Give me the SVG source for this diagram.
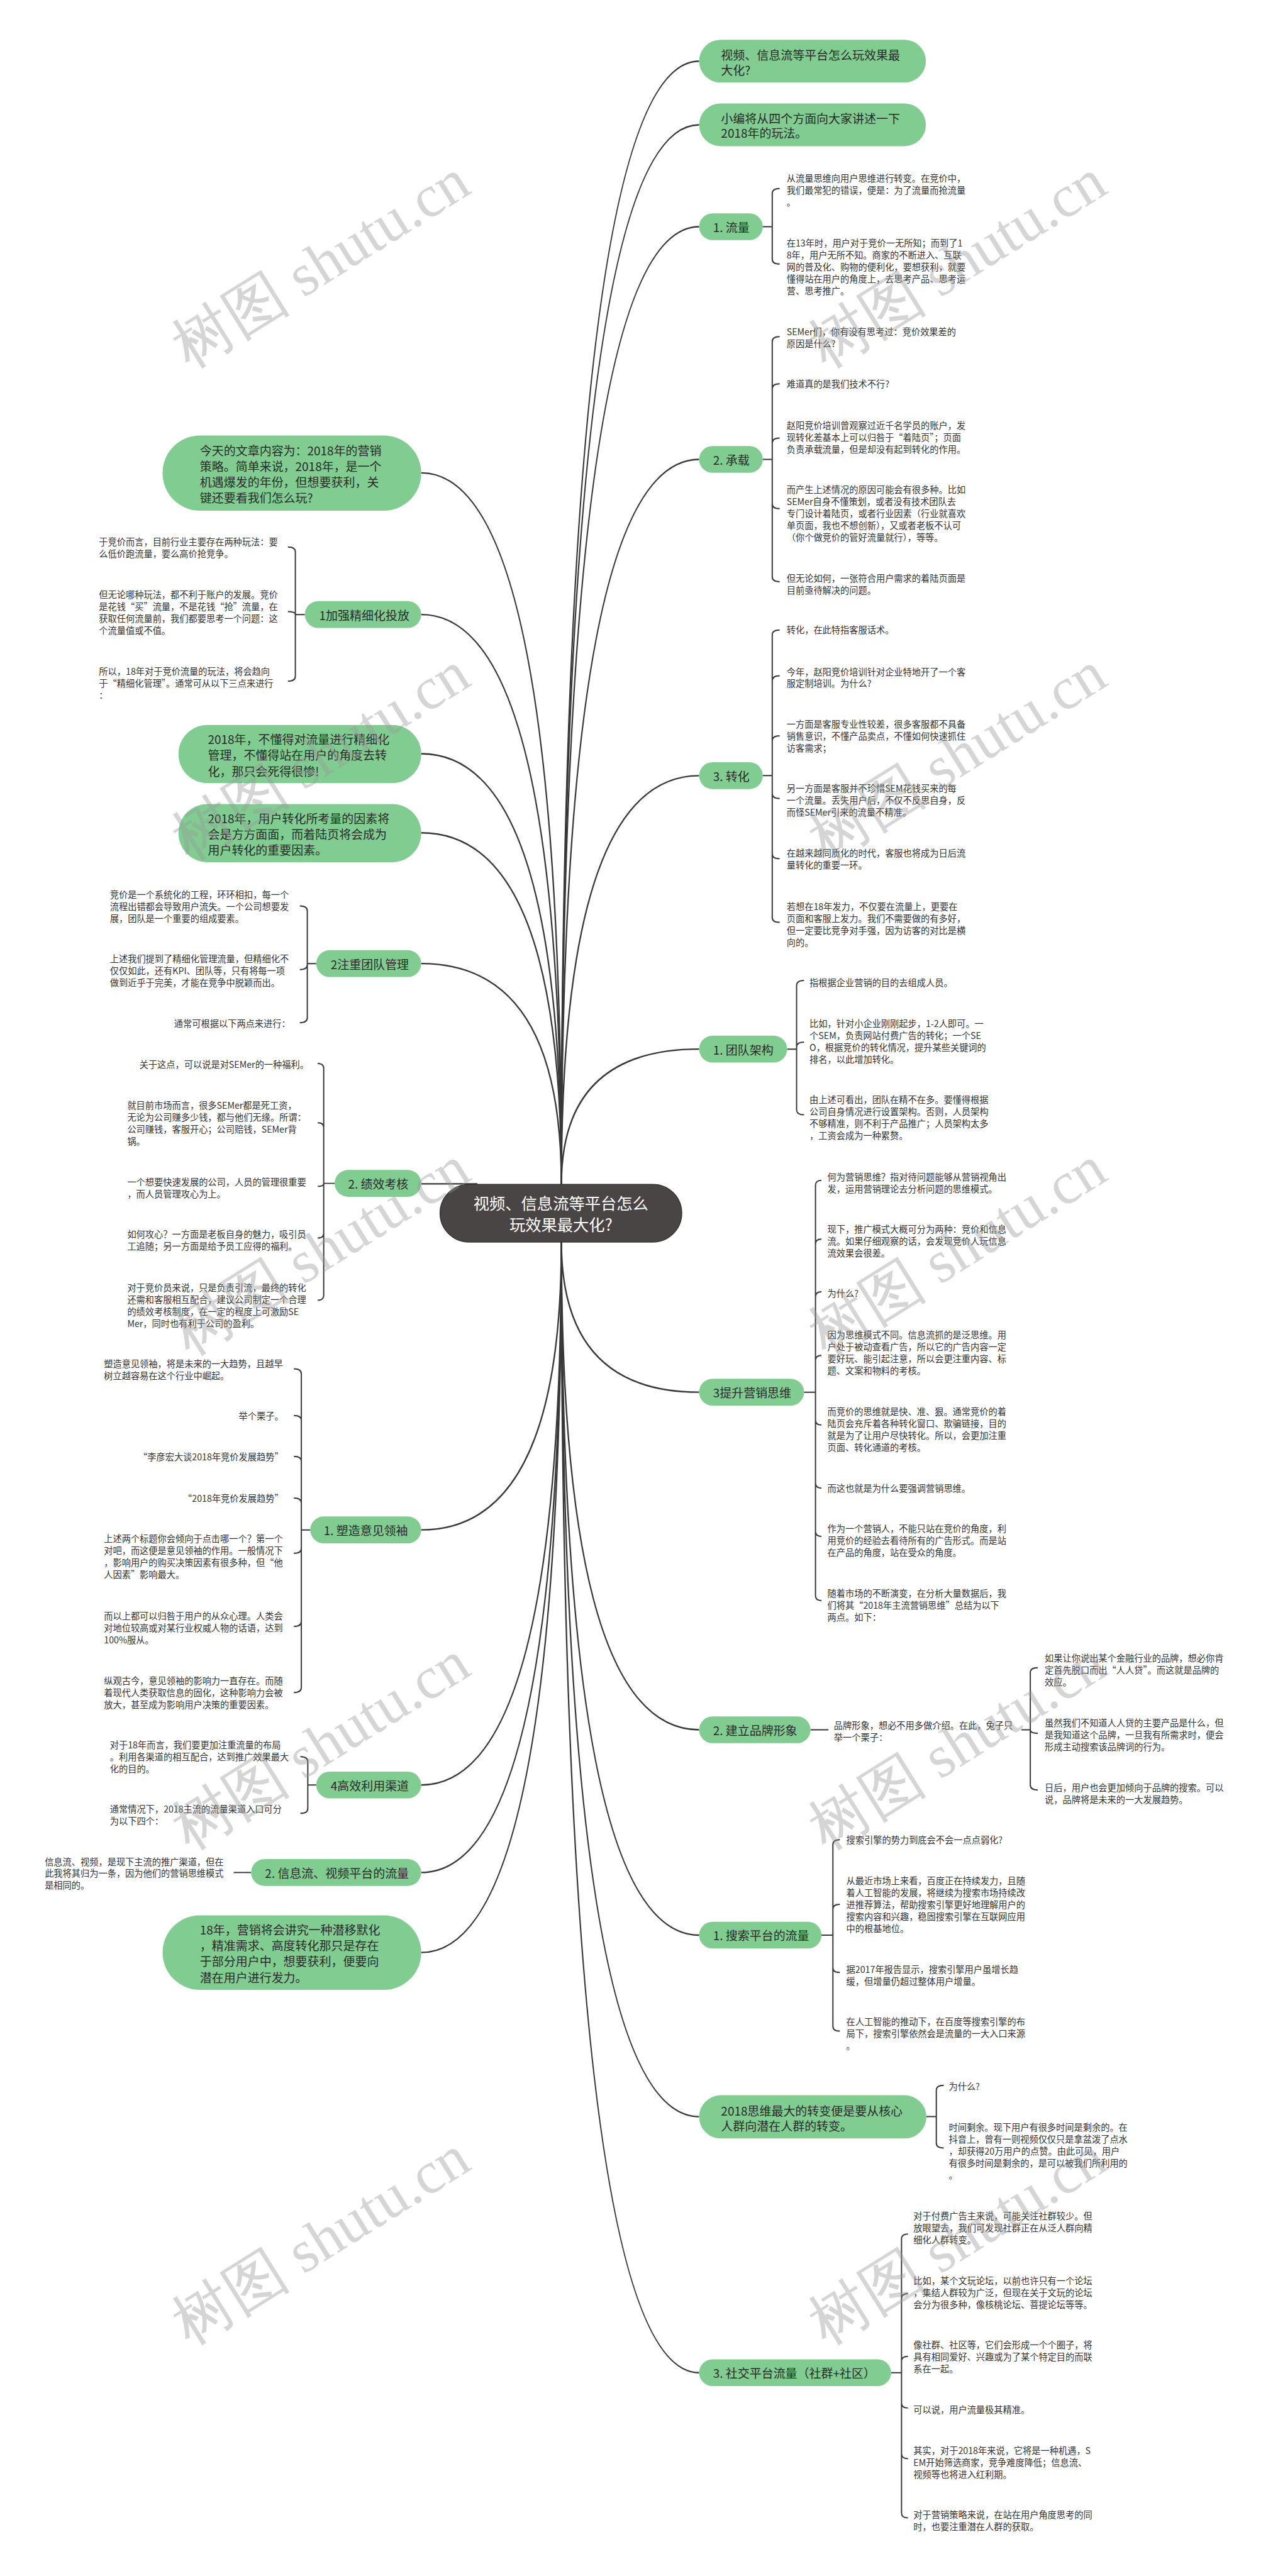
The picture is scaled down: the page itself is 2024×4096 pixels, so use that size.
<svg xmlns="http://www.w3.org/2000/svg" width="2024" height="4096" viewBox="0 0 2024 4096">
<style>
text{font-family:"Noto Sans CJK SC","Noto Sans",sans-serif;dominant-baseline:central}
.d{font-size:18px;fill:#333}
.n{font-size:24px;fill:#2b2b2b}
.c{font-size:32px;fill:#fff;text-anchor:middle}
.e{text-anchor:end}
.g{fill:#80cc91}
.k{fill:#4a4545;stroke:#3a3636;stroke-width:2}
.l{fill:none;stroke:#383838;stroke-width:3}
.b{fill:none;stroke:#383838;stroke-width:2.5}
.w{font-family:"Liberation Serif",serif;font-size:120px;fill:#999;opacity:.4;text-anchor:middle}
</style>
<rect width="2024" height="4096" fill="#fff"/>
<g transform="scale(0.7906)">
<g id="connectors">
<path class="l" d="M1129,2382Q1129,123 1406,123"/>
<path class="l" d="M1129,2382Q1129,251 1406,251"/>
<path class="l" d="M1129,2382Q1129,456 1406,456"/>
<path class="l" d="M1129,2382Q1129,924 1406,924"/>
<path class="l" d="M1129,2382Q1129,1560 1406,1560"/>
<path class="l" d="M1129,2382Q1129,2110 1406,2110"/>
<path class="l" d="M1129,2382Q1129,951 847,951"/>
<path class="l" d="M1129,2382Q1129,1236 847,1236"/>
<path class="l" d="M1129,2382Q1129,1516 847,1516"/>
<path class="l" d="M1129,2382Q1129,1675 847,1675"/>
<path class="l" d="M1129,2382Q1129,1938 847,1938"/>
<path class="l" d="M847,2381H960"/>
<path class="l" d="M1129,2498Q1129,2800 1406,2800"/>
<path class="l" d="M1129,2498Q1129,3479 1406,3479"/>
<path class="l" d="M1129,2498Q1129,3892 1406,3892"/>
<path class="l" d="M1129,2498Q1129,4257 1406,4257"/>
<path class="l" d="M1129,2498Q1129,4772 1406,4772"/>
<path class="l" d="M1129,2498Q1129,3077 847,3077"/>
<path class="l" d="M1129,2498Q1129,3590 847,3590"/>
<path class="l" d="M1129,2498Q1129,3766 847,3766"/>
<path class="l" d="M1129,2498Q1129,3927 847,3927"/>
<path class="b" d="M1534,456H1553M1553,456V389Q1553,379 1568,379M1553,456V521Q1553,531 1568,531"/>
<path class="b" d="M1534,924H1553M1553,924V687Q1553,677 1568,677M1553,924V782Q1553,772 1568,772M1553,924V891Q1553,881 1568,881M1553,924V1013Q1553,1023 1568,1023M1553,924V1160Q1553,1170 1568,1170"/>
<path class="b" d="M1534,1560H1553M1553,1560V1277Q1553,1267 1568,1267M1553,1560V1369Q1553,1359 1568,1359M1553,1560V1490Q1553,1480 1568,1480M1553,1560V1596Q1553,1606 1568,1606M1553,1560V1717Q1553,1727 1568,1727M1553,1560V1845Q1553,1855 1568,1855"/>
<path class="b" d="M1583,2110H1602M1602,2110V1982Q1602,1972 1617,1972M1602,2110V2106Q1602,2096 1617,2096M1602,2110V2232Q1602,2242 1617,2242"/>
<path class="b" d="M1617,2800H1640M1640,2800V2384Q1640,2374 1652,2374M1640,2800V2502Q1640,2492 1652,2492M1640,2800V2608Q1640,2598 1652,2598M1640,2800V2736Q1640,2726 1652,2726M1640,2800V2856Q1640,2866 1652,2866M1640,2800V2983Q1640,2993 1652,2993M1640,2800V3080Q1640,3090 1652,3090M1640,2800V3209Q1640,3219 1652,3219"/>
<path class="b" d="M1630,3479H1666M2054,3479H2072M2072,3479V3364Q2072,3354 2087,3354M2072,3479Q2072,3486 2087,3486M2072,3479V3590Q2072,3600 2087,3600"/>
<path class="b" d="M1652,3892H1675M1675,3892V3710Q1675,3700 1689,3700M1675,3892V3840Q1675,3830 1689,3830M1675,3892V3957Q1675,3967 1689,3967M1675,3892V4075Q1675,4085 1689,4085"/>
<path class="b" d="M1863,4257H1883M1883,4257V4204Q1883,4194 1898,4194M1883,4257V4310Q1883,4320 1898,4320"/>
<path class="b" d="M1792,4772H1813M1813,4772V4503Q1813,4493 1826,4493M1813,4772V4623Q1813,4613 1826,4613M1813,4772V4749Q1813,4739 1826,4739M1813,4772V4833Q1813,4843 1826,4843M1813,4772V4935Q1813,4945 1826,4945M1813,4772V5054Q1813,5064 1826,5064"/>
<path class="b" d="M613,1236H594M594,1236V1110Q594,1100 579,1100M594,1236Q594,1230 579,1230M594,1236V1360Q594,1370 579,1370"/>
<path class="b" d="M636,1938H618M618,1938V1832Q618,1822 603,1822M618,1938V1940Q618,1950 603,1950M618,1938V2047Q618,2057 603,2057"/>
<path class="b" d="M673,2380H651M651,2380V2149Q651,2139 639,2139M651,2380V2268Q651,2258 639,2258M651,2380Q651,2386 639,2386M651,2380V2480Q651,2490 639,2490M651,2380V2605Q651,2615 639,2615"/>
<path class="b" d="M624,3077H606M606,3077V2763Q606,2753 591,2753M606,3077V2857Q606,2847 591,2847M606,3077V2939Q606,2929 591,2929M606,3077V3023Q606,3013 591,3013M606,3077V3114Q606,3124 591,3124M606,3077V3261Q606,3271 591,3271M606,3077V3394Q606,3404 591,3404"/>
<path class="b" d="M636,3590H619M619,3590V3543Q619,3533 604,3533M619,3590V3637Q619,3647 604,3647"/>
<path class="b" d="M505,3766H470"/>
</g>
<g id="center"><rect class="k" x="885" y="2382" width="486" height="116" rx="58"/><text class="c"><tspan x="1128" y="2419">视频、信息流等平台怎么</tspan><tspan x="1128" y="2462">玩效果最大化?</tspan></text></g>
<g id="nA"><rect class="g" x="1406" y="80" width="456" height="86" rx="43"/><text class="n"><tspan x="1450" y="109">视频、信息流等平台怎么玩效果最</tspan><tspan x="1450" y="139">大化?</tspan></text></g>
<g id="nB"><rect class="g" x="1406" y="208" width="456" height="86" rx="43"/><text class="n"><tspan x="1450" y="236">小编将从四个方面向大家讲述一下</tspan><tspan x="1450" y="266">2018年的玩法。</tspan></text></g>
<g id="n1"><rect class="g" x="1406" y="429" width="128" height="54" rx="27"/><text class="n" x="1434" y="456">1. 流量</text></g>
<g id="n1a"><text class="d"><tspan x="1582" y="357">从流量思维向用户思维进行转变。在竞价中，</tspan><tspan x="1582" y="381">我们最常犯的错误，便是：为了流量而抢流量</tspan><tspan x="1582" y="405">。</tspan></text></g>
<g id="n1b"><text class="d"><tspan x="1582" y="487">在13年时，用户对于竞价一无所知；而到了1</tspan><tspan x="1582" y="511">8年，用户无所不知。商家的不断进入、互联</tspan><tspan x="1582" y="535">网的普及化、购物的便利化，要想获利，就要</tspan><tspan x="1582" y="559">懂得站在用户的角度上，去思考产品、思考运</tspan><tspan x="1582" y="583">营、思考推广。</tspan></text></g>
<g id="n2"><rect class="g" x="1406" y="897" width="128" height="54" rx="27"/><text class="n" x="1434" y="924">2. 承载</text></g>
<g id="n2a"><text class="d"><tspan x="1582" y="665">SEMer们，你有没有思考过：竞价效果差的</tspan><tspan x="1582" y="689">原因是什么?</tspan></text></g>
<g id="n2b"><text class="d" x="1582" y="771">难道真的是我们技术不行?</text></g>
<g id="n2c"><text class="d"><tspan x="1582" y="854">赵阳竞价培训曾观察过近千名学员的账户，发</tspan><tspan x="1582" y="878">现转化差基本上可以归咎于“着陆页”；页面</tspan><tspan x="1582" y="902">负责承载流量，但是却没有起到转化的作用。</tspan></text></g>
<g id="n2d"><text class="d"><tspan x="1582" y="983">而产生上述情况的原因可能会有很多种。比如</tspan><tspan x="1582" y="1007">SEMer自身不懂策划，或者没有技术团队去</tspan><tspan x="1582" y="1031">专门设计着陆页，或者行业因素（行业就喜欢</tspan><tspan x="1582" y="1055">单页面，我也不想创新），又或者老板不认可</tspan><tspan x="1582" y="1079">（你个做竞价的管好流量就行），等等。</tspan></text></g>
<g id="n2e"><text class="d"><tspan x="1582" y="1161">但无论如何，一张符合用户需求的着陆页面是</tspan><tspan x="1582" y="1185">目前亟待解决的问题。</tspan></text></g>
<g id="n3"><rect class="g" x="1406" y="1533" width="128" height="54" rx="27"/><text class="n" x="1434" y="1560">3. 转化</text></g>
<g id="n3a"><text class="d" x="1582" y="1266">转化，在此特指客服话术。</text></g>
<g id="n3b"><text class="d"><tspan x="1582" y="1349">今年，赵阳竞价培训针对企业特地开了一个客</tspan><tspan x="1582" y="1373">服定制培训。为什么?</tspan></text></g>
<g id="n3c"><text class="d"><tspan x="1582" y="1455">一方面是客服专业性较差，很多客服都不具备</tspan><tspan x="1582" y="1479">销售意识，不懂产品卖点，不懂如何快速抓住</tspan><tspan x="1582" y="1503">访客需求；</tspan></text></g>
<g id="n3d"><text class="d"><tspan x="1582" y="1584">另一方面是客服并不珍惜SEM花钱买来的每</tspan><tspan x="1582" y="1608">一个流量。丢失用户后，不仅不反思自身，反</tspan><tspan x="1582" y="1632">而怪SEMer引来的流量不精准。</tspan></text></g>
<g id="n3e"><text class="d"><tspan x="1582" y="1714">在越来越同质化的时代，客服也将成为日后流</tspan><tspan x="1582" y="1738">量转化的重要一环。</tspan></text></g>
<g id="n3f"><text class="d"><tspan x="1582" y="1822">若想在18年发力，不仅要在流量上，更要在</tspan><tspan x="1582" y="1846">页面和客服上发力。我们不需要做的有多好，</tspan><tspan x="1582" y="1870">但一定要比竞争对手强，因为访客的对比是横</tspan><tspan x="1582" y="1894">向的。</tspan></text></g>
<g id="n4"><rect class="g" x="1406" y="2083" width="177" height="54" rx="27"/><text class="n" x="1434" y="2110">1. 团队架构</text></g>
<g id="n4a"><text class="d" x="1628" y="1975">指根据企业营销的目的去组成人员。</text></g>
<g id="n4b"><text class="d"><tspan x="1628" y="2057">比如，针对小企业刚刚起步，1-2人即可。一</tspan><tspan x="1628" y="2081">个SEM，负责网站付费广告的转化；一个SE</tspan><tspan x="1628" y="2105">O，根据竞价的转化情况，提升某些关键词的</tspan><tspan x="1628" y="2129">排名，以此增加转化。</tspan></text></g>
<g id="n4c"><text class="d"><tspan x="1628" y="2210">由上述可看出，团队在精不在多。要懂得根据</tspan><tspan x="1628" y="2234">公司自身情况进行设置架构。否则，人员架构</tspan><tspan x="1628" y="2258">不够精准，则不利于产品推广；人员架构太多</tspan><tspan x="1628" y="2282">，工资会成为一种累赘。</tspan></text></g>
<g id="n5"><rect class="g" x="1406" y="2773" width="211" height="54" rx="27"/><text class="n" x="1434" y="2800">3提升营销思维</text></g>
<g id="n5a"><text class="d"><tspan x="1664" y="2365">何为营销思维？指对待问题能够从营销视角出</tspan><tspan x="1664" y="2389">发，运用营销理论去分析问题的思维模式。</tspan></text></g>
<g id="n5b"><text class="d"><tspan x="1664" y="2470">现下，推广模式大概可分为两种：竞价和信息</tspan><tspan x="1664" y="2494">流。如果仔细观察的话，会发现竞价人玩信息</tspan><tspan x="1664" y="2518">流效果会很差。</tspan></text></g>
<g id="n5c"><text class="d" x="1664" y="2600">为什么?</text></g>
<g id="n5d"><text class="d"><tspan x="1664" y="2683">因为思维模式不同。信息流抓的是泛思维。用</tspan><tspan x="1664" y="2707">户处于被动查看广告，所以它的广告内容一定</tspan><tspan x="1664" y="2731">要好玩、能引起注意，所以会更注重内容、标</tspan><tspan x="1664" y="2755">题、文案和物料的考核。</tspan></text></g>
<g id="n5e"><text class="d"><tspan x="1664" y="2837">而竞价的思维就是快、准、狠。通常竞价的着</tspan><tspan x="1664" y="2861">陆页会充斥着各种转化窗口、欺骗链接，目的</tspan><tspan x="1664" y="2885">就是为了让用户尽快转化。所以，会更加注重</tspan><tspan x="1664" y="2909">页面、转化通道的考核。</tspan></text></g>
<g id="n5f"><text class="d" x="1664" y="2992">而这也就是为什么要强调营销思维。</text></g>
<g id="n5g"><text class="d"><tspan x="1664" y="3073">作为一个营销人，不能只站在竞价的角度，利</tspan><tspan x="1664" y="3097">用竞价的经验去看待所有的广告形式。而是站</tspan><tspan x="1664" y="3121">在产品的角度，站在受众的角度。</tspan></text></g>
<g id="n5h"><text class="d"><tspan x="1664" y="3203">随着市场的不断演变，在分析大量数据后，我</tspan><tspan x="1664" y="3227">们将其“2018年主流营销思维”总结为以下</tspan><tspan x="1664" y="3251">两点。如下：</tspan></text></g>
<g id="n6"><rect class="g" x="1406" y="3452" width="224" height="54" rx="27"/><text class="n" x="1434" y="3479">2. 建立品牌形象</text></g>
<g id="n6m"><text class="d"><tspan x="1677" y="3468">品牌形象，想必不用多做介绍。在此，兔子只</tspan><tspan x="1677" y="3492">举一个栗子：</tspan></text></g>
<g id="n6a"><text class="d"><tspan x="2101" y="3333">如果让你说出某个金融行业的品牌，想必你肯</tspan><tspan x="2101" y="3357">定首先脱口而出“人人贷”。而这就是品牌的</tspan><tspan x="2101" y="3381">效应。</tspan></text></g>
<g id="n6b"><text class="d"><tspan x="2101" y="3463">虽然我们不知道人人贷的主要产品是什么，但</tspan><tspan x="2101" y="3487">是我知道这个品牌，一旦我有所需求时，便会</tspan><tspan x="2101" y="3511">形成主动搜索该品牌词的行为。</tspan></text></g>
<g id="n6c"><text class="d"><tspan x="2101" y="3593">日后，用户也会更加倾向于品牌的搜索。可以</tspan><tspan x="2101" y="3617">说，品牌将是未来的一大发展趋势。</tspan></text></g>
<g id="n7"><rect class="g" x="1406" y="3865" width="246" height="54" rx="27"/><text class="n" x="1434" y="3892">1. 搜索平台的流量</text></g>
<g id="n7a"><text class="d" x="1702" y="3699">搜索引擎的势力到底会不会一点点弱化?</text></g>
<g id="n7b"><text class="d"><tspan x="1702" y="3781">从最近市场上来看，百度正在持续发力，且随</tspan><tspan x="1702" y="3805">着人工智能的发展，将继续为搜索市场持续改</tspan><tspan x="1702" y="3829">进推荐算法，帮助搜索引擎更好地理解用户的</tspan><tspan x="1702" y="3853">搜索内容和兴趣，稳固搜索引擎在互联网应用</tspan><tspan x="1702" y="3877">中的根基地位。</tspan></text></g>
<g id="n7c"><text class="d"><tspan x="1702" y="3959">据2017年报告显示，搜索引擎用户虽增长趋</tspan><tspan x="1702" y="3983">缓，但增量仍超过整体用户增量。</tspan></text></g>
<g id="n7d"><text class="d"><tspan x="1702" y="4064">在人工智能的推动下，在百度等搜索引擎的布</tspan><tspan x="1702" y="4088">局下，搜索引擎依然会是流量的一大入口来源</tspan><tspan x="1702" y="4112">。</tspan></text></g>
<g id="n8"><rect class="g" x="1406" y="4214" width="457" height="87" rx="43.5"/><text class="n"><tspan x="1450" y="4243">2018思维最大的转变便是要从核心</tspan><tspan x="1450" y="4274">人群向潜在人群的转变。</tspan></text></g>
<g id="n8a"><text class="d" x="1908" y="4195">为什么?</text></g>
<g id="n8b"><text class="d"><tspan x="1908" y="4277">时间剩余。现下用户有很多时间是剩余的。在</tspan><tspan x="1908" y="4301">抖音上，曾有一则视频仅仅只是拿盆泼了点水</tspan><tspan x="1908" y="4325">，却获得20万用户的点赞。由此可见，用户</tspan><tspan x="1908" y="4349">有很多时间是剩余的，是可以被我们所利用的</tspan><tspan x="1908" y="4373">。</tspan></text></g>
<g id="n9"><rect class="g" x="1406" y="4745" width="386" height="54" rx="27"/><text class="n" x="1434" y="4772">3. 社交平台流量（社群+社区）</text></g>
<g id="n9a"><text class="d"><tspan x="1837" y="4455">对于付费广告主来说，可能关注社群较少。但</tspan><tspan x="1837" y="4479">放眼望去，我们可发现社群正在从泛人群向精</tspan><tspan x="1837" y="4503">细化人群转变。</tspan></text></g>
<g id="n9b"><text class="d"><tspan x="1837" y="4585">比如，某个文玩论坛，以前也许只有一个论坛</tspan><tspan x="1837" y="4609">，集结人群较为广泛，但现在关于文玩的论坛</tspan><tspan x="1837" y="4633">会分为很多种，像核桃论坛、菩提论坛等等。</tspan></text></g>
<g id="n9c"><text class="d"><tspan x="1837" y="4714">像社群、社区等，它们会形成一个个圈子，将</tspan><tspan x="1837" y="4738">具有相同爱好、兴趣或为了某个特定目的而联</tspan><tspan x="1837" y="4762">系在一起。</tspan></text></g>
<g id="n9d"><text class="d" x="1837" y="4845">可以说，用户流量极其精准。</text></g>
<g id="n9e"><text class="d"><tspan x="1837" y="4927">其实，对于2018年来说，它将是一种机遇，S</tspan><tspan x="1837" y="4951">EM开始筛选商家，竞争难度降低；信息流、</tspan><tspan x="1837" y="4975">视频等也将进入红利期。</tspan></text></g>
<g id="n9f"><text class="d"><tspan x="1837" y="5056">对于营销策略来说，在站在用户角度思考的同</tspan><tspan x="1837" y="5080">时，也要注重潜在人群的获取。</tspan></text></g>
<g id="L1"><rect class="g" x="327" y="876" width="520" height="151" rx="75"/><text class="n"><tspan x="402" y="904">今天的文章内容为：2018年的营销</tspan><tspan x="402" y="936">策略。简单来说，2018年，是一个</tspan><tspan x="402" y="968">机遇爆发的年份，但想要获利，关</tspan><tspan x="402" y="999">键还要看我们怎么玩?</tspan></text></g>
<g id="L2"><rect class="g" x="613" y="1209" width="234" height="54" rx="27"/><text class="n" x="642" y="1236">1加强精细化投放</text></g>
<g id="L2a"><text class="d"><tspan x="199" y="1088">于竞价而言，目前行业主要存在两种玩法：要</tspan><tspan x="199" y="1112">么低价跑流量，要么高价抢竞争。</tspan></text></g>
<g id="L2b"><text class="d"><tspan x="199" y="1194">但无论哪种玩法，都不利于账户的发展。竞价</tspan><tspan x="199" y="1218">是花钱“买”流量，不是花钱“抢”流量，在</tspan><tspan x="199" y="1242">获取任何流量前，我们都要思考一个问题：这</tspan><tspan x="199" y="1266">个流量值或不值。</tspan></text></g>
<g id="L2c"><text class="d"><tspan x="199" y="1348">所以，18年对于竞价流量的玩法，将会趋向</tspan><tspan x="199" y="1372">于“精细化管理”。通常可从以下三点来进行</tspan><tspan x="199" y="1396">：</tspan></text></g>
<g id="L3"><rect class="g" x="359" y="1458" width="488" height="117" rx="58"/><text class="n"><tspan x="418" y="1485">2018年，不懂得对流量进行精细化</tspan><tspan x="418" y="1517">管理，不懂得站在用户的角度去转</tspan><tspan x="418" y="1549">化，那只会死得很惨!</tspan></text></g>
<g id="L4"><rect class="g" x="359" y="1617" width="488" height="117" rx="58"/><text class="n"><tspan x="418" y="1644">2018年，用户转化所考量的因素将</tspan><tspan x="418" y="1676">会是方方面面，而着陆页将会成为</tspan><tspan x="418" y="1708">用户转化的重要因素。</tspan></text></g>
<g id="L5"><rect class="g" x="636" y="1911" width="211" height="54" rx="27"/><text class="n" x="665" y="1938">2注重团队管理</text></g>
<g id="L5a"><text class="d"><tspan x="221" y="1798">竞价是一个系统化的工程，环环相扣，每一个</tspan><tspan x="221" y="1822">流程出错都会导致用户流失。一个公司想要发</tspan><tspan x="221" y="1846">展，团队是一个重要的组成要素。</tspan></text></g>
<g id="L5b"><text class="d"><tspan x="221" y="1927">上述我们提到了精细化管理流量，但精细化不</tspan><tspan x="221" y="1951">仅仅如此，还有KPI、团队等，只有将每一项</tspan><tspan x="221" y="1975">做到近乎于完美，才能在竞争中脱颖而出。</tspan></text></g>
<g id="L5c"><text class="d e" x="584" y="2057">通常可根据以下两点来进行：</text></g>
<g id="L6"><rect class="g" x="673" y="2353" width="174" height="54" rx="27"/><text class="n" x="700" y="2380">2. 绩效考核</text></g>
<g id="L6a"><text class="d e" x="621" y="2139">关于这点，可以说是对SEMer的一种福利。</text></g>
<g id="L6b"><text class="d"><tspan x="256" y="2221">就目前市场而言，很多SEMer都是死工资，</tspan><tspan x="256" y="2245">无论为公司赚多少钱，都与他们无缘。所谓：</tspan><tspan x="256" y="2269">公司赚钱，客服开心；公司赔钱，SEMer背</tspan><tspan x="256" y="2293">锅。</tspan></text></g>
<g id="L6c"><text class="d"><tspan x="256" y="2375">一个想要快速发展的公司，人员的管理很重要</tspan><tspan x="256" y="2399">，而人员管理攻心为上。</tspan></text></g>
<g id="L6d"><text class="d"><tspan x="256" y="2480">如何攻心？一方面是老板自身的魅力，吸引员</tspan><tspan x="256" y="2504">工追随；另一方面是给予员工应得的福利。</tspan></text></g>
<g id="L6e"><text class="d"><tspan x="256" y="2588">对于竞价员来说，只是负责引流，最终的转化</tspan><tspan x="256" y="2612">还需和客服相互配合，建议公司制定一个合理</tspan><tspan x="256" y="2636">的绩效考核制度，在一定的程度上可激励SE</tspan><tspan x="256" y="2660">Mer，同时也有利于公司的盈利。</tspan></text></g>
<g id="L7"><rect class="g" x="624" y="3050" width="223" height="54" rx="27"/><text class="n" x="651" y="3077">1. 塑造意见领袖</text></g>
<g id="L7a"><text class="d"><tspan x="209" y="2741">塑造意见领袖，将是未来的一大趋势，且越早</tspan><tspan x="209" y="2765">树立越容易在这个行业中崛起。</tspan></text></g>
<g id="L7b"><text class="d e" x="570" y="2847">举个栗子。</text></g>
<g id="L7c"><text class="d e" x="570" y="2929">“李彦宏大谈2018年竞价发展趋势”</text></g>
<g id="L7d"><text class="d e" x="570" y="3012">“2018年竞价发展趋势”</text></g>
<g id="L7e"><text class="d"><tspan x="209" y="3093">上述两个标题你会倾向于点击哪一个？第一个</tspan><tspan x="209" y="3117">对吧，而这便是意见领袖的作用。一般情况下</tspan><tspan x="209" y="3141">，影响用户的购买决策因素有很多种，但“他</tspan><tspan x="209" y="3165">人因素”影响最大。</tspan></text></g>
<g id="L7f"><text class="d"><tspan x="209" y="3248">而以上都可以归咎于用户的从众心理。人类会</tspan><tspan x="209" y="3272">对地位较高或对某行业权威人物的话语，达到</tspan><tspan x="209" y="3296">100%服从。</tspan></text></g>
<g id="L7g"><text class="d"><tspan x="209" y="3378">纵观古今，意见领袖的影响力一直存在。而随</tspan><tspan x="209" y="3402">着现代人类获取信息的固化，这种影响力会被</tspan><tspan x="209" y="3426">放大，甚至成为影响用户决策的重要因素。</tspan></text></g>
<g id="L8"><rect class="g" x="636" y="3563" width="211" height="54" rx="27"/><text class="n" x="665" y="3590">4高效利用渠道</text></g>
<g id="L8a"><text class="d"><tspan x="221" y="3507">对于18年而言，我们要更加注重流量的布局</tspan><tspan x="221" y="3531">。利用各渠道的相互配合，达到推广效果最大</tspan><tspan x="221" y="3555">化的目的。</tspan></text></g>
<g id="L8b"><text class="d"><tspan x="221" y="3637">通常情况下，2018主流的流量渠道入口可分</tspan><tspan x="221" y="3661">为以下四个：</tspan></text></g>
<g id="L9"><rect class="g" x="505" y="3739" width="342" height="54" rx="27"/><text class="n" x="533" y="3766">2. 信息流、视频平台的流量</text></g>
<g id="L9a"><text class="d"><tspan x="90" y="3743">信息流、视频，是现下主流的推广渠道，但在</tspan><tspan x="90" y="3766">此我将其归为一条，因为他们的营销思维模式</tspan><tspan x="90" y="3790">是相同的。</tspan></text></g>
<g id="L10"><rect class="g" x="327" y="3852" width="520" height="150" rx="75"/><text class="n"><tspan x="402" y="3879">18年，营销将会讲究一种潜移默化</tspan><tspan x="402" y="3911">，精准需求、高度转化那只是存在</tspan><tspan x="402" y="3943">于部分用户中，想要获利，便要向</tspan><tspan x="402" y="3975">潜在用户进行发力。</tspan></text></g>
<g id="watermarks">
<text class="w" transform="translate(645,530) rotate(-32)">树图 shutu.cn</text>
<text class="w" transform="translate(1925,530) rotate(-32)">树图 shutu.cn</text>
<text class="w" transform="translate(645,1520) rotate(-32)">树图 shutu.cn</text>
<text class="w" transform="translate(1925,1520) rotate(-32)">树图 shutu.cn</text>
<text class="w" transform="translate(645,2515) rotate(-32)">树图 shutu.cn</text>
<text class="w" transform="translate(1925,2515) rotate(-32)">树图 shutu.cn</text>
<text class="w" transform="translate(645,3510) rotate(-32)">树图 shutu.cn</text>
<text class="w" transform="translate(1925,3510) rotate(-32)">树图 shutu.cn</text>
<text class="w" transform="translate(645,4505) rotate(-32)">树图 shutu.cn</text>
<text class="w" transform="translate(1925,4505) rotate(-32)">树图 shutu.cn</text>
</g>
</g>
</svg>
